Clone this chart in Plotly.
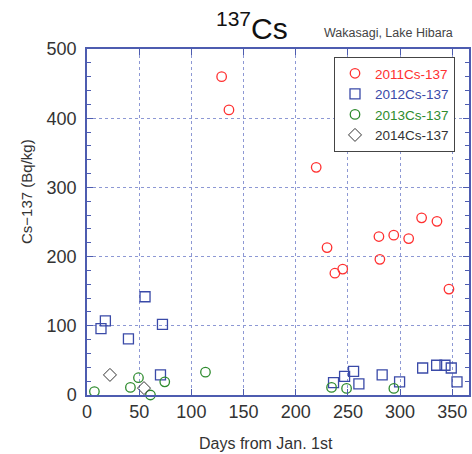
import plotly.graph_objects as go

# Data (days from Jan. 1st, Cs-137 in Bq/kg)
x2011 = [129, 136, 219.6, 230, 237.5, 245, 279.7, 280.6, 293.9, 308.2, 320.6, 335.3, 346.8]
y2011 = [460, 412, 329, 213, 176, 182, 229, 196, 231, 226, 256, 251, 153]

x2012 = [13.4, 17.6, 39.7, 55.6, 72.3, 70.4, 236.2, 246.8, 255.4, 260.5, 282.8, 299.5, 321.6, 335, 343, 349, 354.5]
y2012 = [96, 107, 81, 142, 102, 29, 18, 27, 34, 16, 29, 19, 39, 43, 43, 39, 19]

x2013 = [7.1, 41.6, 49.3, 60.8, 74.5, 113.5, 234.3, 248.7, 294]
y2013 = [5, 11, 25, 0, 19, 33, 11, 9.5, 9.5]

x2014 = [22, 54.6]
y2014 = [29, 10]

names = ["2011Cs-137", "2012Cs-137", "2013Cs-137", "2014Cs-137"]
colors = ["#ff3030", "#3a4aa8", "#2e8b2e", "#333333"]
symbols = ["circle-open", "square-open", "circle-open", "diamond-open"]
sizes = [9.5, 10, 9.5, 10]
widths = [1.3, 1.3, 1.3, 1.0]

FONT = "Liberation Sans, Arial, sans-serif"
AXC = "#4d5cb0"
GRIDC = "#8d98d4"

W, H = 472, 454
L, R, T = 87, 3, 49
B = H - 395

fig = go.Figure()
for xs, ys, nm, c, s, sz, lw in zip([x2011, x2012, x2013, x2014], [y2011, y2012, y2013, y2014],
                                    names, colors, symbols, sizes, widths):
    fig.add_trace(go.Scatter(
        x=xs, y=ys, mode="markers", name=f"<span style='color:{c}'>{nm}</span>",
        marker=dict(symbol=s, size=sz, color=c, line=dict(color=c, width=lw)),
        cliponaxis=False,
    ))

pw, ph = W - L - R, H - T - B


def px2paper(xp, yp):
    return (xp - L) / pw, (H - B - yp) / ph


lx, ly = px2paper(334, 57)

fig.update_layout(
    width=W, height=H,
    margin=dict(l=L, r=R, t=T, b=B, autoexpand=False),
    paper_bgcolor="white", plot_bgcolor="white",
    font=dict(family=FONT, color="#333333"),
    showlegend=True,
    legend=dict(x=lx, y=ly, xanchor="left", yanchor="top",
                bordercolor="#444444", borderwidth=1, bgcolor="white",
                font=dict(family=FONT, size=13.5), itemwidth=30,
                tracegroupgap=0),
    xaxis=dict(range=[0, 366], tickvals=[0, 50, 100, 150, 200, 250, 300, 350],
               showline=True, linecolor=AXC, linewidth=1.5, mirror="ticks",
               ticks="inside", ticklen=6, tickcolor=AXC, tickwidth=1.2,
               showgrid=True, gridcolor=GRIDC, griddash="dot", gridwidth=1,
               zeroline=False, tickfont=dict(size=18, color="#333333")),
    yaxis=dict(range=[0, 500], tickvals=[0, 100, 200, 300, 400, 500],
               showline=True, linecolor=AXC, linewidth=1.5, mirror="ticks",
               ticks="inside", ticklen=6, tickcolor=AXC, tickwidth=1.2,
               minor=dict(dtick=20, ticks="inside", ticklen=4, tickcolor=AXC, tickwidth=1, showgrid=False),
               showgrid=True, gridcolor=GRIDC, griddash="dot", gridwidth=1,
               zeroline=False, tickfont=dict(size=18, color="#333333"), ticklabelstandoff=5),
)

texts = [
    ("<sup>137</sup>Cs", 252, 26, 30, "#111111", 0),
    ("Wakasagi, Lake Hibara", 388, 33, 12.5, "#444444", 0),
    ("Cs−137 (Bq/kg)", 26, 192, 15, "#333333", -90),
    ("Days from Jan. 1st", 266, 443, 16, "#333333", 0),
]
for t, xp, yp, sz, col, ang in texts:
    ax_, ay_ = px2paper(xp, yp)
    fig.add_annotation(text=t, xref="paper", yref="paper", x=ax_, y=ay_,
                       xanchor="center", yanchor="middle", textangle=ang,
                       showarrow=False, font=dict(size=sz, color=col, family=FONT))

fig.write_html(
    "out.html",
    config={"displayModeBar": False},
    post_script="document.body.style.margin='0';document.body.style.overflow='hidden';"
                "document.documentElement.style.overflow='hidden';",
)
